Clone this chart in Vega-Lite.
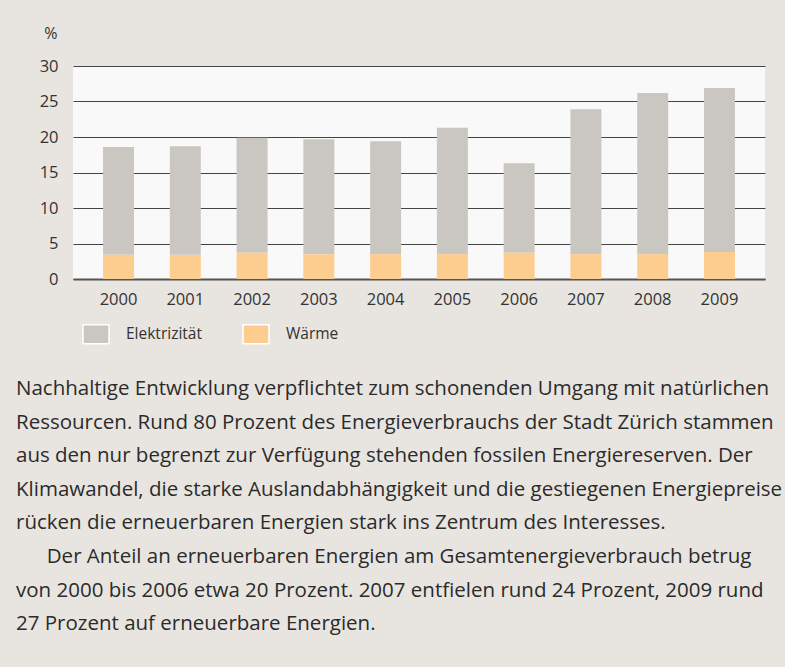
{
  "$schema": "https://vega.github.io/schema/vega-lite/v6.json",
  "width": 692,
  "height": 213,
  "autosize": {"type": "none"},
  "padding": {"left": 73, "top": 66, "right": 20, "bottom": 388},
  "background": "#e8e5e0",
  "config": {"view": {"fill": "#f9f9f9", "stroke": null}, "font": "Open Sans"},
  "data": {"values": [
    {"year": "2000", "type": "Elektrizität", "value": 15.2},
    {"year": "2000", "type": "Wärme", "value": 3.4},
    {"year": "2001", "type": "Elektrizität", "value": 15.3},
    {"year": "2001", "type": "Wärme", "value": 3.4},
    {"year": "2002", "type": "Elektrizität", "value": 16.2},
    {"year": "2002", "type": "Wärme", "value": 3.7},
    {"year": "2003", "type": "Elektrizität", "value": 16.2},
    {"year": "2003", "type": "Wärme", "value": 3.5},
    {"year": "2004", "type": "Elektrizität", "value": 15.9},
    {"year": "2004", "type": "Wärme", "value": 3.5},
    {"year": "2005", "type": "Elektrizität", "value": 17.8},
    {"year": "2005", "type": "Wärme", "value": 3.5},
    {"year": "2006", "type": "Elektrizität", "value": 12.6},
    {"year": "2006", "type": "Wärme", "value": 3.7},
    {"year": "2007", "type": "Elektrizität", "value": 20.4},
    {"year": "2007", "type": "Wärme", "value": 3.5},
    {"year": "2008", "type": "Elektrizität", "value": 22.7},
    {"year": "2008", "type": "Wärme", "value": 3.5},
    {"year": "2009", "type": "Elektrizität", "value": 23.1},
    {"year": "2009", "type": "Wärme", "value": 3.8}
  ]},
  "mark": {"type": "bar"},
  "encoding": {
    "x": {
      "field": "year", "type": "ordinal",
      "scale": {"paddingInner": 0.536, "paddingOuter": 0.45},
      "axis": {"title": null, "labelAngle": 0, "ticks": false, "domainColor": "#555", "domainWidth": 2, "labelFontSize": 16.5, "labelColor": "#333", "labelPadding": 12, "grid": false}
    },
    "y": {
      "field": "value", "type": "quantitative", "stack": "zero",
      "scale": {"domain": [0, 30], "nice": false},
      "axis": {"values": [0, 5, 10, 15, 20, 25, 30], "domain": false, "ticks": false, "grid": true, "gridColor": "#444", "gridWidth": 1.2, "labelFontSize": 16.5, "labelColor": "#333", "labelPadding": 15, "title": "%", "titleAngle": 0, "titleX": -16, "titleY": -33, "titleAlign": "right", "titleBaseline": "middle", "titleFontSize": 16, "titleFontWeight": "normal", "titleColor": "#333"}
    },
    "color": {
      "field": "type", "type": "nominal",
      "scale": {"domain": ["Elektrizität", "Wärme"], "range": ["#cac7c3", "#fdcd8f"]},
      "legend": {
        "title": null, "orient": "none", "legendX": 9, "legendY": 254, "direction": "horizontal",
        "symbolType": "M-1,-0.73H1V0.73H-1Z", "symbolSize": 676, "symbolStrokeColor": "white", "symbolStrokeWidth": 1.5, "symbolOpacity": 1,
        "labelFontSize": 15.5, "labelColor": "#333", "labelOffset": 16, "columnPadding": 38,
        "encode": {"symbols": {"update": {"fill": {"signal": "datum.value === 'Wärme' ? '#efdba5' : '#cac7c3'"}, "stroke": {"value": "white"}, "strokeWidth": {"value": 1.5}}}}
      }
    },
    "order": {"field": "type", "sort": "descending"}
  },
  "title": {
    "text": [
      "Nachhaltige Entwicklung verpflichtet zum schonenden Umgang mit natürlichen",
      "Ressourcen. Rund 80 Prozent des Energieverbrauchs der Stadt Zürich stammen",
      "aus den nur begrenzt zur Verfügung stehenden fossilen Energiereserven. Der",
      "Klimawandel, die starke Auslandabhängigkeit und die gestiegenen Energiepreise",
      "rücken die erneuerbaren Energien stark ins Zentrum des Interesses.",
      "\u200b\u2003\u2002Der Anteil an erneuerbaren Energien am Gesamtenergieverbrauch betrug",
      "von 2000 bis 2006 etwa 20 Prozent. 2007 entfielen rund 24 Prozent, 2009 rund",
      "27 Prozent auf erneuerbare Energien."
    ],
    "orient": "bottom", "anchor": "start", "frame": "group",
    "fontSize": 20.5, "font": "Open Sans", "fontWeight": "normal", "color": "#2b2b2b",
    "lineHeight": 33.6, "dx": -57, "offset": 32
  }
}
